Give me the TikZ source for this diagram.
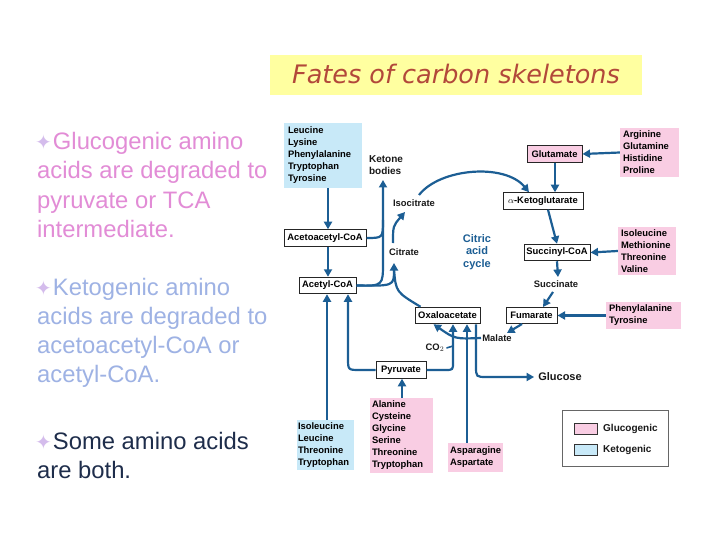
\documentclass[tikz,border=0pt]{standalone}
\usepackage{fontspec}
\setmainfont{Liberation Sans}
\newfontfamily\dfont{Liberation Sans}
\newfontfamily\tfont{DejaVu Sans}
\usetikzlibrary{arrows.meta}
\definecolor{arrblue}{RGB}{28,94,148}
\definecolor{pinkf}{RGB}{249,205,227}
\definecolor{bluef}{RGB}{200,233,248}
\definecolor{titlebg}{RGB}{255,255,160}
\definecolor{titlec}{RGB}{178,72,58}
\definecolor{glucc}{RGB}{226,140,214}
\definecolor{ketoc}{RGB}{158,178,228}
\definecolor{bothc}{RGB}{30,45,75}
\definecolor{bulc}{RGB}{212,188,236}
\newcommand{\sfx}{\dfont\bfseries\fontsize{9.4}{12}\selectfont}
\newcommand{\bul}{{\tfont\color{bulc}\fontsize{20}{20}\selectfont ✦\hspace{1pt}}}
\begin{document}
\begin{tikzpicture}[x=1pt,y=-1pt,
  lbl/.style={font=\sfx, inner sep=0pt, text=black!90},
  boxn/.style={draw=black!85, line width=1pt, fill=white, font=\sfx, inner sep=0pt, minimum height=16.5},
  pinkbox/.style={fill=pinkf, font=\sfx, align=left, inner ysep=0pt},
  bluebox/.style={fill=bluef, font=\sfx, align=left, inner ysep=0pt},
  arr/.style={draw=arrblue, line width=2.2pt, -{Triangle[length=7.5pt,width=8pt]}},
  ln/.style={draw=arrblue, line width=2.2pt},
  ltxt/.style={anchor=base west, inner sep=0pt, font=\fontsize{23.8}{29}\selectfont},
]
\useasboundingbox (0,0) rectangle (720,540);
\fill[white] (0,0) rectangle (720,540);

% title
\node[fill=titlebg, minimum width=372, minimum height=40, inner sep=0pt] (titlebox) at (456,75) {};
\node[font=\tfont\itshape\fontsize{25.5}{25}\selectfont, text=titlec] (title) at (456,74) {Fates of carbon skeletons};

% left texts
\node[ltxt, text=glucc] (g1) at (35,150) {\bul Glucogenic amino};
\node[ltxt, text=glucc] (g2) at (37,179) {acids are degraded to};
\node[ltxt, text=glucc] (g3) at (37,208) {pyruvate or TCA};
\node[ltxt, text=glucc] (g4) at (37,237) {intermediate.};
\node[ltxt, text=ketoc] (k1) at (35,295) {\bul Ketogenic amino};
\node[ltxt, text=ketoc] (k2) at (37,324) {acids are degraded to};
\node[ltxt, text=ketoc] (k3) at (37,353) {acetoacetyl-CoA or};
\node[ltxt, text=ketoc] (k4) at (37,382) {acetyl-CoA.};
\node[ltxt, text=bothc] (b1) at (35,449) {\bul Some amino acids};
\node[ltxt, text=bothc] (b2) at (37,478) {are both.};

% amino-acid boxes
\node[bluebox, text width=70, inner xsep=4, minimum height=65] (ket) at (323,155.5) {Leucine\\Lysine\\Phenylalanine\\Tryptophan\\Tyrosine};
\node[pinkbox, text width=53, inner xsep=3, minimum height=49] (arg) at (649.5,152.5) {Arginine\\Glutamine\\Histidine\\Proline};
\node[pinkbox, text width=52, inner xsep=3, minimum height=48] (ile) at (647,251) {Isoleucine\\Methionine\\Threonine\\Valine};
\node[pinkbox, text width=69, inner xsep=3, minimum height=27] (phe) at (643.5,315.5) {Phenylalanine\\Tyrosine};
\node[bluebox, text width=55, inner xsep=1, minimum height=50] (isob) at (325.5,445) {Isoleucine\\Leucine\\Threonine\\Tryptophan};
\node[pinkbox, text width=59, inner xsep=2, minimum height=75] (ala) at (401.5,435.5) {Alanine\\Cysteine\\Glycine\\Serine\\Threonine\\Tryptophan};
\node[pinkbox, text width=51, inner xsep=2, minimum height=29] (asn) at (475.5,457.5) {Asparagine\\Aspartate};

% intermediates
\node[boxn, minimum width=82] (aacoa) at (325,238) {Acetoacetyl-CoA};
\node[boxn, minimum width=57] (acoa) at (327.5,285.5) {Acetyl-CoA};
\node[boxn, minimum width=65] (oaa) at (447.5,315.5) {Oxaloacetate};
\node[boxn, minimum width=51] (fum) at (531.5,315.5) {Fumarate};
\node[boxn, minimum width=50] (pyr) at (401,370) {Pyruvate};
\node[boxn, minimum width=80] (akg) at (543,201) {$\alpha$-Ketoglutarate};
\node[boxn, fill=pinkf, minimum width=55] (glu) at (554.5,154) {Glutamate};
\node[boxn, minimum width=66] (scoa) at (557,252.5) {Succinyl-CoA};

% labels
\node[lbl, align=left, font=\dfont\bfseries\fontsize{10}{12}\selectfont] (keto) at (386,165) {Ketone\\bodies};
\node[lbl] (cit) at (404,252) {Citrate};
\node[lbl] (iso) at (414,203) {Isocitrate};
\node[lbl] (suc) at (556,284) {Succinate};
\node[lbl] (mal) at (497,338) {Malate};
\node[lbl] (co2) at (435,348) {CO$_2$};
\node[lbl, font=\dfont\bfseries\fontsize{11}{12}\selectfont] (gluc) at (560,377) {Glucose};
\node[lbl, align=center, text=arrblue, font=\dfont\bfseries\fontsize{11}{12.5}\selectfont] (cac) at (477,252) {Citric\\acid\\cycle};

% connectors
\draw[arr] (ket.south -| 328,0) -- (aacoa.north -| 328,0);
\draw[arr] (aacoa.south -| 328,0) -- (acoa.north -| 328,0);
\coordinate (kt) at (383,180);
\draw[arr] (acoa.east) .. controls (383,286) .. (383,262) -- (kt);
\draw[ln] (aacoa.east) .. controls (383,238) .. (383,220);
\coordinate (ct) at (394,263);
\draw[arr] (acoa.east) .. controls (394,286) .. (ct);
\draw[ln] ([xshift=-27]oaa.north) .. controls (396,292) .. (394,270);
\coordinate (cb) at (393,243);
\coordinate (ic) at (405,212);
\draw[arr] (cb) .. controls (393,226) .. (ic);
\coordinate (ia) at (419,195);
\draw[arr] (ia) .. controls (440,168) and (505,163) .. ([xshift=-14]akg.north);
\draw[arr] (glu.south -| 555,0) -- (akg.north -| 555,0);
\draw[arr] (arg.west) -- (glu.east);
\draw[arr] ([xshift=5]akg.south) .. controls (552,225) .. (scoa.north);
\draw[arr] (ile.west) -- (scoa.east);
\coordinate (st) at (558,277);
\draw[arr] (scoa.south) -- (st);
\coordinate (sb) at (553,292);
\coordinate (ft) at (543,307);
\draw[arr] (sb) -- (ft);
\draw[arr] (phe.west) -- (fum.east);
\coordinate (fb) at (522,324);
\coordinate (mt) at (507,333);
\draw[arr] (fb) -- (mt);
\coordinate (ml) at (481,338);
\draw[arr] (ml) .. controls (455,339) .. ([xshift=-14]oaa.south);
\draw[arr] (pyr.east) -- (445,370) .. controls (453,370) .. (453,362) -- (oaa.south -| 453,0);
\draw[ln, line width=1.6pt] ([xshift=2]co2.east) -- (453,346);
\draw[arr] (asn.north -| 467,0) -- (oaa.south -| 467,0);
\draw[arr] (oaa.south -| 476,0) -- (476,366) .. controls (476,377) .. (487,377) -- ([xshift=-4]gluc.west);
\draw[arr] (pyr.west) -- (360,370) .. controls (348,370) .. (348,358) -- (acoa.south -| 348,0);
\draw[arr] (isob.north -| 327,0) -- (acoa.south -| 327,0);
\draw[arr] (ala.north -| 402,0) -- (pyr.south -| 402,0);

% legend
\node[draw=black!60, line width=0.8pt, fill=white, minimum width=106, minimum height=56, inner sep=0pt] (leg) at (615,438) {};
\node[draw=black!80, line width=0.8pt, fill=pinkf, minimum width=23, minimum height=11, inner sep=0pt] (lp) at (585.5,428.5) {};
\node[draw=black!80, line width=0.8pt, fill=bluef, minimum width=23, minimum height=11, inner sep=0pt] (lb) at (585.5,449.5) {};
\node[lbl, anchor=west, font=\dfont\bfseries\fontsize{10}{12}\selectfont] (lpt) at (603,428.5) {Glucogenic};
\node[lbl, anchor=west, font=\dfont\bfseries\fontsize{10}{12}\selectfont] (lbt) at (603,449.5) {Ketogenic};
\end{tikzpicture}
\end{document}
